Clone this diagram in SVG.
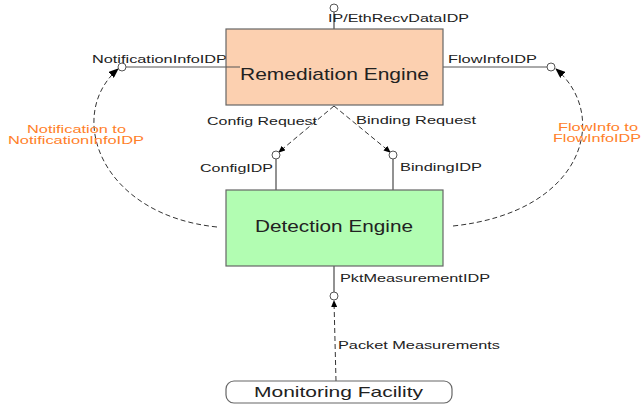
<svg xmlns="http://www.w3.org/2000/svg" width="642" height="405" viewBox="0 0 642 405">
<defs>
<marker id="ah" markerWidth="10" markerHeight="8" refX="9" refY="4" orient="auto" markerUnits="userSpaceOnUse"><path d="M0,0 L10,4 L0,8 Z" fill="#000"/></marker>
<marker id="ahs" markerWidth="7" markerHeight="6" refX="6" refY="3" orient="auto" markerUnits="userSpaceOnUse"><path d="M0,0 L7,3 L0,6 Z" fill="#000"/></marker>
<style>
.box{stroke:#666;stroke-width:1.2}
.t{font-family:"Liberation Sans",Arial,sans-serif;fill:#222}
.lbl{font-size:11.5px}
.big{font-size:17px}
.or{font-family:"Liberation Sans",Arial,sans-serif;font-size:11.5px;fill:#ff7f2a}
.sol{stroke:#777;stroke-width:1.6;fill:none}
.hl{stroke:#555;stroke-width:1;fill:none}
.port{fill:#fff;stroke:#555;stroke-width:1}
.dash{stroke:#333;stroke-width:1;stroke-dasharray:5,3;fill:none}
</style>
</defs>
<rect width="642" height="405" fill="#fff"/>

<g id="connectors">
<line class="sol" x1="334" y1="12" x2="334" y2="29"/>
<line class="hl" x1="126" y1="67" x2="240" y2="67"/>
<line class="hl" x1="443" y1="67" x2="547" y2="67"/>
<line class="sol" x1="276" y1="159" x2="276" y2="190"/>
<line class="sol" x1="393" y1="159" x2="393" y2="190"/>
<line class="sol" x1="334" y1="266" x2="334" y2="292"/>
<path class="dash" d="M334,106 L279,152" marker-end="url(#ahs)"/>
<path class="dash" d="M334,106 L390,152" marker-end="url(#ahs)"/>
<path class="dash" d="M336,381 L334,301" marker-end="url(#ahs)"/>
<path class="dash" d="M217,227 C100,215 65,115 118,69" marker-end="url(#ah)"/>
<path class="dash" d="M453,226 C585,212 610,115 556,69" marker-end="url(#ah)"/>
<circle class="port" cx="334" cy="8" r="4"/>
<circle class="port" cx="122" cy="67" r="4"/>
<circle class="port" cx="551" cy="67" r="4"/>
<circle class="port" cx="276" cy="155" r="4"/>
<circle class="port" cx="393" cy="155" r="4"/>
<circle class="port" cx="334" cy="296" r="4"/>
<text class="t lbl" x="328" y="22" textLength="141" lengthAdjust="spacingAndGlyphs">IP/EthRecvDataIDP</text>
<text class="t lbl" x="92" y="63" textLength="135" lengthAdjust="spacingAndGlyphs">NotificationInfoIDP</text>
<text class="t lbl" x="448" y="63" textLength="89" lengthAdjust="spacingAndGlyphs">FlowInfoIDP</text>
<text class="t lbl" x="207" y="125" textLength="110" lengthAdjust="spacingAndGlyphs">Config Request</text>
<text class="t lbl" x="356" y="124" textLength="120" lengthAdjust="spacingAndGlyphs">Binding Request</text>
<text class="t lbl" x="200" y="172" textLength="73" lengthAdjust="spacingAndGlyphs">ConfigIDP</text>
<text class="t lbl" x="400" y="171" textLength="82" lengthAdjust="spacingAndGlyphs">BindingIDP</text>
<text class="t lbl" x="340" y="282" textLength="150" lengthAdjust="spacingAndGlyphs">PktMeasurementIDP</text>
<text class="t lbl" x="338" y="349" textLength="162" lengthAdjust="spacingAndGlyphs">Packet Measurements</text>
<text class="or" x="27" y="133" textLength="99" lengthAdjust="spacingAndGlyphs">Notification to</text>
<text class="or" x="8" y="144" textLength="136" lengthAdjust="spacingAndGlyphs">NotificationInfoIDP</text>
<text class="or" x="558" y="131" textLength="80" lengthAdjust="spacingAndGlyphs">FlowInfo to</text>
<text class="or" x="553" y="142" textLength="88" lengthAdjust="spacingAndGlyphs">FlowInfoIDP</text>
</g>

<g id="remediation">
<rect class="box" x="226" y="29" width="217" height="76" fill="#fcd0b0"/>
<line class="hl" x1="226" y1="67" x2="240" y2="67"/>
<text class="t big" x="240" y="80" textLength="189" lengthAdjust="spacingAndGlyphs">Remediation Engine</text>
</g>

<g id="detection">
<rect class="box" x="226" y="190" width="217" height="76" fill="#b2fdb2"/>
<text class="t big" x="255" y="232" textLength="158" lengthAdjust="spacingAndGlyphs">Detection Engine</text>
</g>

<g id="monitoring">
<rect class="box" x="226" y="381" width="226" height="22" rx="8" fill="#fff"/>
<text class="t" style="font-size:15px" x="254" y="397" textLength="169" lengthAdjust="spacingAndGlyphs">Monitoring Facility</text>
</g>
</svg>
